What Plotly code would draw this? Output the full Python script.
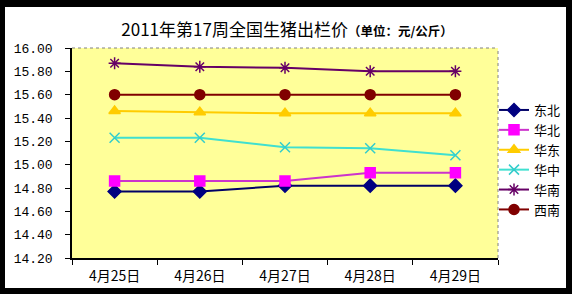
import plotly.graph_objects as go

dates = ["4月25日", "4月26日", "4月27日", "4月28日", "4月29日"]
dongbei = [14.77, 14.77, 14.82, 14.82, 14.82]
huabei = [14.86, 14.86, 14.86, 14.93, 14.93]
huadong = [15.46, 15.45, 15.44, 15.44, 15.44]
huazhong = [15.23, 15.23, 15.15, 15.14, 15.08]
huanan = [15.87, 15.84, 15.83, 15.80, 15.80]
xinan = [15.60, 15.60, 15.60, 15.60, 15.60]
ytick_vals = [14.2, 14.4, 14.6, 14.8, 15.0, 15.2, 15.4, 15.6, 15.8, 16.0]
ytick_text = ["14.20", "14.40", "14.60", "14.80", "15.00", "15.20", "15.40", "15.60", "15.80", "16.00"]

series = [
    ("东北", dongbei, "#000066", "#000080", "diamond", 10),
    ("华北", huabei, "#CC33CC", "#FF00FF", "square", 10),
    ("华东", huadong, "#FFCC00", "#FFCC00", "triangle-up", 10),
    ("华中", huazhong, "#40E0D0", "#33CCCC", "x-thin-open", 10),
    ("华南", huanan, "#660066", "#660066", "asterisk-open", 10),
    ("西南", xinan, "#800000", "#800000", "circle", 10),
]

W, H = 572, 294
L, R, T, B = 72, 74, 48, 36
pw, ph = W - L - R, H - T - B

fig = go.Figure()
for name, vals, lc, mc, sym, ms in series:
    fig.add_trace(go.Scatter(
        x=dates, y=vals, name=name, mode="lines+markers",
        line=dict(color=lc, width=2),
        marker=dict(symbol=sym, size=ms, color=mc, line=dict(color=mc, width=1.5)),
    ))

def px_x(p):
    return (p - L) / pw

def px_y(p):
    return (H - B - p) / ph

fig.update_layout(
    width=W, height=H,
    margin=dict(l=L, r=R, t=T, b=B, autoexpand=False),
    paper_bgcolor="black",
    plot_bgcolor="#FFFF99",
    showlegend=True,
    legend=dict(x=px_x(494), y=px_y(95), xanchor="left", yanchor="top",
                font=dict(family="Noto Sans CJK SC", size=13, color="black"),
                bgcolor="rgba(0,0,0,0)", itemwidth=30, tracegroupgap=0),
    title=dict(
        text="2011年第17周全国生猪出栏价<span style='font-size:12.5px'><b>（单位：元/公斤）</b></span>",
        x=287 / W, xanchor="center", y=1 - 30 / H, yanchor="middle",
        font=dict(family="Noto Sans CJK SC", size=17, color="black"),
    ),
    xaxis=dict(
        type="category", range=[-0.5, 4.5], tickson="boundaries",
        ticks="outside", ticklen=5, tickcolor="black",
        showline=True, linecolor="black", linewidth=1.5,
        showgrid=False, zeroline=False,
        tickfont=dict(family="Noto Sans CJK SC", size=14, color="black"),
        ticklabelstandoff=4,
    ),
    yaxis=dict(
        range=[14.2, 16.0], tickvals=ytick_vals, ticktext=ytick_text,
        ticks="outside", ticklen=5, tickcolor="black",
        showline=True, linecolor="black", linewidth=1.5,
        showgrid=False, zeroline=False,
        tickfont=dict(family="Liberation Mono", size=13, color="black"),
        ticklabelstandoff=10,
    ),
    shapes=[
        dict(type="rect", xref="paper", yref="paper", layer="below",
             x0=px_x(5), x1=px_x(566), y0=px_y(288), y1=px_y(7),
             fillcolor="white", line=dict(width=0)),
        dict(type="rect", xref="paper", yref="paper", layer="below",
             x0=0, x1=1, y0=0, y1=1,
             fillcolor="#FFFF99", line=dict(width=0)),
        dict(type="line", xref="paper", yref="paper", layer="above",
             x0=0, x1=1, y0=1, y1=1, line=dict(color="#808080", width=1, dash="dot")),
        dict(type="line", xref="paper", yref="paper", layer="above",
             x0=1, x1=1, y0=0, y1=1, line=dict(color="#808080", width=1, dash="dot")),
    ],
)

fig.write_html("out.html")
